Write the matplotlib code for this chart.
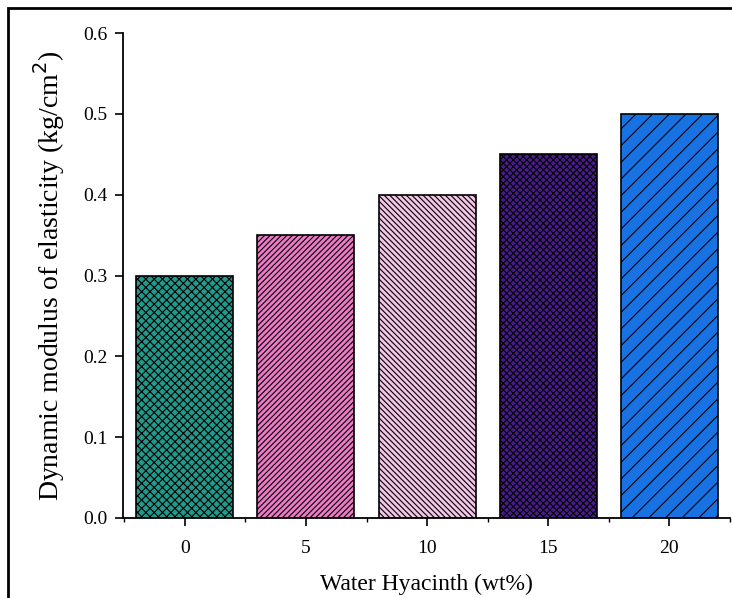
import matplotlib
matplotlib.use("Agg")
import matplotlib.pyplot as plt
from matplotlib.patches import Rectangle
from matplotlib.ticker import MultipleLocator

categories = [0, 5, 10, 15, 20]
values = [0.30, 0.35, 0.40, 0.45, 0.50]
colors = ["#1f9a8c", "#ec7ac6", "#f2c6e6", "#4a1b8e", "#1872e2"]
hatches = ["xxxx", "//////", "\\\\\\\\\\\\", "xxxxx", "//"]

plt.rcParams['font.family'] = ['Liberation Serif', 'DejaVu Serif']
plt.rcParams['hatch.linewidth'] = 0.8

fig = plt.figure(figsize=(7.32, 5.98), dpi=100)
ax = fig.add_axes([123/732, 80/598, 607/732, 485/598])

for x, v, c, h in zip(categories, values, colors, hatches):
    ax.bar(x, v, width=4.0, color=c, edgecolor='black', hatch=h, linewidth=1.2)

ax.set_xlim(-2.55, 22.5)
ax.set_ylim(0, 0.6)
ax.set_xticks(categories)
ax.set_xticklabels([str(c) for c in categories])
ax.xaxis.set_minor_locator(MultipleLocator(2.5))
ax.set_yticks([0.0, 0.1, 0.2, 0.3, 0.4, 0.5, 0.6])
ax.set_yticklabels(["0.0", "0.1", "0.2", "0.3", "0.4", "0.5", "0.6"])
ax.tick_params(axis='both', which='major', direction='out', length=6, width=1.2, labelsize=14)
ax.tick_params(axis='x', which='major', pad=10)
ax.tick_params(axis='y', which='major', pad=5)
ax.tick_params(axis='x', which='minor', direction='out', length=3, width=1.0)
for s in ['top', 'right']:
    ax.spines[s].set_visible(False)
for s in ['left', 'bottom']:
    ax.spines[s].set_linewidth(1.3)

ax.set_xlabel("Water Hyacinth (wt%)", fontsize=17, labelpad=12)
ax.set_ylabel("Dynamic modulus of elasticity (kg/cm$^2$)", fontsize=20, labelpad=12)

fig.patches.append(Rectangle((8/732, -0.05), 1.1, (598-8)/598 + 0.05, transform=fig.transFigure,
                             fill=False, edgecolor='black', linewidth=2, figure=fig))

fig.savefig("out.png", dpi=100)
